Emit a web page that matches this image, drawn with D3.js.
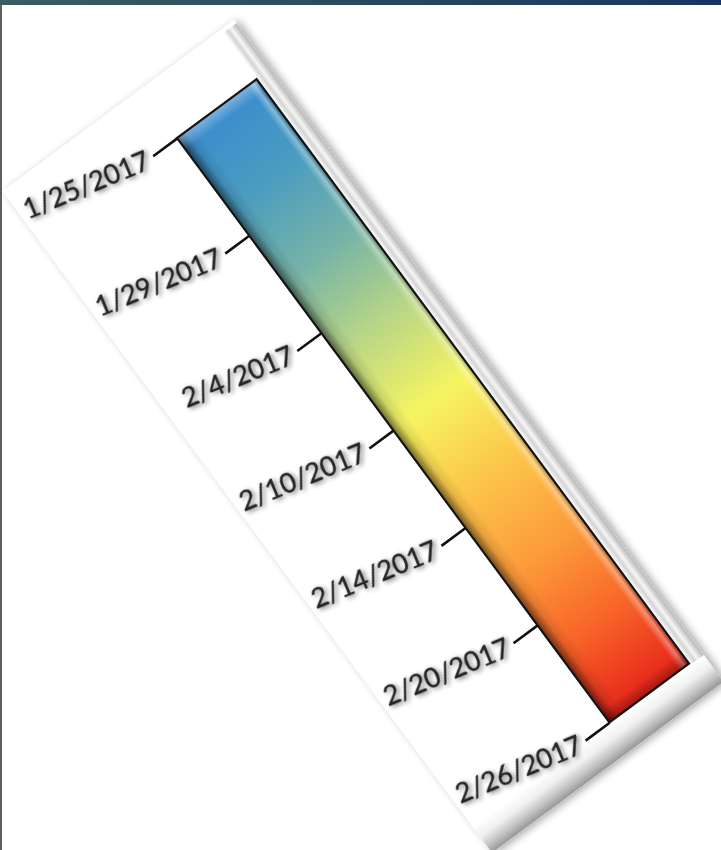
<!DOCTYPE html>
<html>
  <head>
    <meta charset="utf-8">
    <title>Date color scale</title>
    <script src="https://d3js.org/d3.v7.min.js"></script>
    <style>
      body { margin: 0; background: #ffffff; }
      svg { display: block; }
    </style>
  </head>
  <body>
  <div id="legend"></div>

  <script>

  // tick labels, top to bottom of the bar
  var dateLabels = ["1/25/2017", "1/29/2017", "2/4/2017", "2/10/2017", "2/14/2017", "2/20/2017", "2/26/2017"];

  // gradient stops (offset 0 = top)
  var stopOffsets = [0, 0.12, 0.25, 0.37, 0.5, 0.63, 0.76, 0.88, 1];
  var stopColors = ["#3a8ccf", "#4a9cc0", "#78b4a6", "#b8d686", "#f6f462", "#fcc44a", "#fc9a3a", "#f86428", "#e6241a"];

  var width = 721, height = 850;

  // bar placement: top-left corner and tilt of the whole legend
  var origin = {x: 177, y: 138},
      angle = -36.5,
      textTilt = 14,
      barW = 99,
      barH = 727;

  var svg = d3.select("#legend")
    .append("svg")
      .attr("width", width)
      .attr("height", height);

  var defs = svg.append("defs");

  // page strips
  var topGrad = defs.append("linearGradient").attr("id", "topGrad");
  topGrad.append("stop").attr("offset", 0).attr("stop-color", "#3b5d5f");
  topGrad.append("stop").attr("offset", 1).attr("stop-color", "#19355f");

  // bar colours
  var barGrad = defs.append("linearGradient")
    .attr("id", "barGrad")
    .attr("x1", 0).attr("y1", 0).attr("x2", 0).attr("y2", 1);
  barGrad.selectAll("stop")
    .data(stopOffsets)
    .enter().append("stop")
      .attr("offset", function(d) { return d; })
      .attr("stop-color", function(d, i) { return stopColors[i]; });

  // bevel across the bar
  var bevel = defs.append("linearGradient").attr("id", "bevel");
  bevel.append("stop").attr("offset", 0).attr("stop-color", "#000").attr("stop-opacity", 0.55);
  bevel.append("stop").attr("offset", 0.1).attr("stop-color", "#000").attr("stop-opacity", 0.1);
  bevel.append("stop").attr("offset", 0.2).attr("stop-color", "#000").attr("stop-opacity", 0);
  bevel.append("stop").attr("offset", 0.88).attr("stop-color", "#fff").attr("stop-opacity", 0);
  bevel.append("stop").attr("offset", 0.95).attr("stop-color", "#fff").attr("stop-opacity", 0.35);
  bevel.append("stop").attr("offset", 1).attr("stop-color", "#000").attr("stop-opacity", 0.25);

  var bevelTop = defs.append("linearGradient")
    .attr("id", "bevelTop")
    .attr("x1", 0).attr("y1", 0).attr("x2", 0).attr("y2", 1);
  bevelTop.append("stop").attr("offset", 0).attr("stop-color", "#fff").attr("stop-opacity", 0.35);
  bevelTop.append("stop").attr("offset", 0.02).attr("stop-color", "#fff").attr("stop-opacity", 0);
  bevelTop.append("stop").attr("offset", 0.98).attr("stop-color", "#000").attr("stop-opacity", 0);
  bevelTop.append("stop").attr("offset", 1).attr("stop-color", "#000").attr("stop-opacity", 0.3);

  // panel rims
  var rimRight = defs.append("linearGradient").attr("id", "rimRight");
  rimRight.append("stop").attr("offset", 0).attr("stop-color", "#fff");
  rimRight.append("stop").attr("offset", 0.3).attr("stop-color", "#d4d4d4");
  rimRight.append("stop").attr("offset", 0.55).attr("stop-color", "#f6f6f6");
  rimRight.append("stop").attr("offset", 1).attr("stop-color", "#b4b4b4");

  var rimBottom = defs.append("linearGradient")
    .attr("id", "rimBottom")
    .attr("x1", 0).attr("y1", 0).attr("x2", 0).attr("y2", 1);
  rimBottom.append("stop").attr("offset", 0).attr("stop-color", "#fff");
  rimBottom.append("stop").attr("offset", 0.4).attr("stop-color", "#f0f0f0");
  rimBottom.append("stop").attr("offset", 0.75).attr("stop-color", "#c0c0c0");
  rimBottom.append("stop").attr("offset", 1).attr("stop-color", "#969696");

  // soft shadow under the panel
  var shadow = defs.append("filter").attr("id", "panelShadow")
    .attr("x", "-20%").attr("y", "-10%").attr("width", "140%").attr("height", "120%");
  shadow.append("feGaussianBlur").attr("in", "SourceAlpha").attr("stdDeviation", 4);
  shadow.append("feOffset").attr("dx", 3).attr("dy", 3).attr("result", "blur");
  shadow.append("feComponentTransfer").append("feFuncA").attr("type", "linear").attr("slope", 0.35);
  var m1 = shadow.append("feMerge");
  m1.append("feMergeNode");
  m1.append("feMergeNode").attr("in", "SourceGraphic");

  // blurry grey shadow behind labels
  var textShadow = defs.append("filter").attr("id", "textShadow")
    .attr("x", "-10%").attr("y", "-40%").attr("width", "120%").attr("height", "180%");
  textShadow.append("feGaussianBlur").attr("in", "SourceAlpha").attr("stdDeviation", 2.5);
  textShadow.append("feOffset").attr("dx", 2).attr("dy", 2).attr("result", "b");
  textShadow.append("feComponentTransfer").append("feFuncA").attr("type", "linear").attr("slope", 0.55);
  var m2 = textShadow.append("feMerge");
  m2.append("feMergeNode");
  m2.append("feMergeNode").attr("in", "SourceGraphic");

  svg.append("rect")
    .attr("x", 0).attr("y", 0)
    .attr("width", width).attr("height", 5)
    .attr("fill", "url(#topGrad)");
  svg.append("rect")
    .attr("x", 0).attr("y", 5)
    .attr("width", 2).attr("height", height - 5)
    .attr("fill", "#5e6256");

  // everything below lives in the tilted frame
  var g = svg.append("g")
    .attr("transform", "translate(" + origin.x + "," + origin.y + ") rotate(" + angle + ")");

  // panel
  var panel = {x0: -172, y0: -61, x1: 116, y1: 762};
  g.append("rect")
    .attr("x", panel.x0).attr("y", panel.y0)
    .attr("width", panel.x1 - panel.x0).attr("height", panel.y1 - panel.y0)
    .attr("fill", "#fff")
    .attr("filter", "url(#panelShadow)");
  g.append("rect")
    .attr("x", barW + 1).attr("y", panel.y0 + 4)
    .attr("width", panel.x1 - barW - 1).attr("height", panel.y1 - panel.y0 - 4)
    .attr("fill", "url(#rimRight)");
  g.append("rect")
    .attr("x", panel.x0).attr("y", barH + 2)
    .attr("width", panel.x1 - panel.x0).attr("height", panel.y1 - barH - 2)
    .attr("fill", "url(#rimBottom)");

  // the colour bar
  g.append("rect")
    .attr("width", barW).attr("height", barH)
    .attr("fill", "url(#barGrad)");
  g.append("rect")
    .attr("width", barW).attr("height", barH)
    .attr("fill", "url(#bevel)");
  g.append("rect")
    .attr("width", barW).attr("height", barH)
    .attr("fill", "url(#bevelTop)")
    .attr("stroke", "#141414")
    .attr("stroke-width", 2.2);

  // date axis down the left side
  var y = d3.scalePoint()
    .domain(dateLabels)
    .range([0, barH]);

  var tickLen = 30, pad = 6;

  var axis = g.append("g")
    .call(d3.axisLeft(y).tickSize(tickLen).tickPadding(pad));

  axis.select(".domain").remove();
  axis.selectAll(".tick line")
    .attr("stroke", "#111")
    .attr("stroke-width", 2.6);

  // labels sit a little flatter than the bar
  axis.selectAll(".tick text")
    .attr("fill", "#222")
    .attr("stroke", "#222")
    .attr("stroke-width", 0.4)
    .attr("font-family", "Lato, 'Open Sans', sans-serif")
    .attr("font-size", 27)
    .attr("transform", "rotate(" + textTilt + "," + (-tickLen - pad) + ",0)")
    .attr("filter", "url(#textShadow)");

  </script>
  </body>
</html>
